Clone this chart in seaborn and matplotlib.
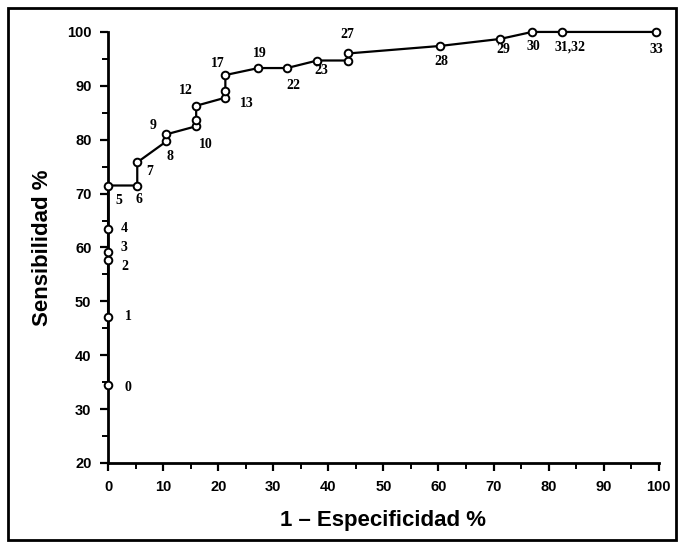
import matplotlib
matplotlib.use("Agg")
import matplotlib.pyplot as plt
import seaborn as sns
from matplotlib.patches import Rectangle
from matplotlib.ticker import MultipleLocator

# ROC curve points (1 - specificity %, sensitivity %)
fpr = [0, 0, 0, 0, 0, 0, 5.3, 5.3, 10.6, 10.6, 16.0, 16.0, 16.0, 21.3, 21.3, 21.3,
       27.3, 32.5, 38.0, 43.5, 43.5, 60.3, 71.2, 77.0, 82.4, 99.5]
sens = [34.4, 47.1, 57.6, 59.1, 63.5, 71.5, 71.5, 75.8, 79.7, 81.0, 82.5, 83.6, 86.3,
        87.8, 89.0, 92.0, 93.3, 93.3, 94.7, 94.7, 96.0, 97.4, 98.7, 100, 100, 100]
point_labels = ["0", "1", "2", "3", "4", "5", "6", "7", "8", "9", "10", "", "12",
                "13", "", "17", "19", "22", "23", "", "27", "28", "29", "30", "31,32", "33"]

# label offsets in pixels (dx right, dy up)
offsets = {"0": (20, -2), "1": (20, 0), "2": (17, -6), "3": (16, 5), "4": (16, 0),
           "5": (11, -15), "6": (2, -14), "7": (12, -9), "8": (4, -15), "9": (-13, 9),
           "10": (10, -18), "12": (-10, 15), "13": (21, -6), "17": (-8, 12),
           "19": (1, 15), "22": (6, -17), "23": (4, -10), "27": (0, 19),
           "28": (1, -16), "29": (3, -11), "30": (1, -15), "31,32": (8, -15),
           "33": (0, -18)}

sns.set_style("ticks")
plt.rcParams["font.family"] = ["Liberation Sans", "DejaVu Sans"]
plt.rcParams.update({"text.color": "black", "axes.labelcolor": "black",
                     "xtick.color": "black", "ytick.color": "black",
                     "axes.edgecolor": "black"})

fig = plt.figure(figsize=(6.84, 5.47), dpi=100)
ax = fig.add_axes([0.158, 0.1536, 0.805, 0.788])

sns.lineplot(x=fpr, y=sens, sort=False, estimator=None, ax=ax, color="black",
             lw=1.6, marker="o", markersize=5.5, markerfacecolor="white",
             markeredgecolor="black", markeredgewidth=1.4, clip_on=False, zorder=3)

for xi, yi, lab in zip(fpr, sens, point_labels):
    if not lab:
        continue
    dx, dy = offsets[lab]
    ax.annotate(lab, (xi, yi), xytext=(dx, dy), textcoords="offset pixels",
                ha="center", va="center", fontsize=10, fontweight="bold",
                family="Liberation Serif")

ax.set_xlim(0, 100)
ax.set_ylim(20, 100)
ax.xaxis.set_major_locator(MultipleLocator(10))
ax.xaxis.set_minor_locator(MultipleLocator(5))
ax.yaxis.set_major_locator(MultipleLocator(10))
ax.yaxis.set_minor_locator(MultipleLocator(5))
ax.tick_params(which="major", direction="out", length=6, width=1.6,
               labelsize=10.5, pad=6)
ax.tick_params(which="minor", direction="out", length=4, width=1.4)
for lab in ax.get_xticklabels() + ax.get_yticklabels():
    lab.set_fontweight("bold")

sns.despine(ax=ax)
ax.spines["left"].set_linewidth(2)
ax.spines["bottom"].set_linewidth(2)

ax.set_xlabel("1 – Especificidad %", fontsize=16, fontweight="bold", labelpad=12)
ax.set_ylabel("Sensibilidad %", fontsize=16, fontweight="bold", labelpad=10)

fig.patches.append(Rectangle((0.011, 0.013), 0.978, 0.973, transform=fig.transFigure,
                             fill=False, edgecolor="black", lw=2))

fig.savefig("out.png", dpi=100)
